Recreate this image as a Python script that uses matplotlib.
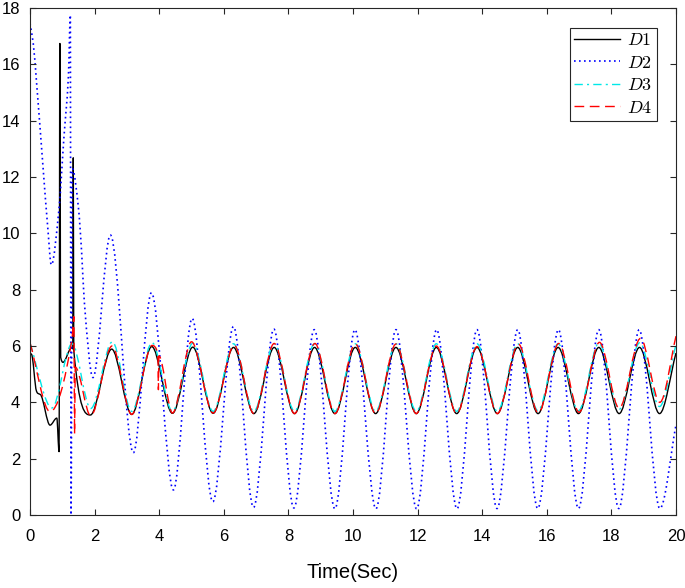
import numpy as np
import matplotlib
matplotlib.use('Agg')
import matplotlib.pyplot as plt
from matplotlib.path import Path
from matplotlib.patches import PathPatch
from matplotlib.lines import Line2D

plt.rcParams['font.family'] = ['Liberation Sans', 'DejaVu Sans']
plt.rcParams['mathtext.fontset'] = 'cm'

# knots: extrema, spikes and shoulders of each response
d1_t = [0.0, 0.05, 0.20, 0.24, 0.32, 0.62, 0.83, 0.90, 0.925, 0.95, 1.02, 1.29, 1.325, 1.34, 1.355,
        1.87, 2.53, 3.15, 3.77, 4.41, 5.04, 5.67, 6.30, 6.93, 7.56, 8.19, 8.81, 9.44, 10.07,
        10.70, 11.33, 11.96, 12.58, 13.21, 13.84, 14.47, 15.10, 15.73, 16.35, 16.98, 17.61,
        18.24, 18.87, 19.49, 20.0]
d1_y = [5.75, 5.70, 4.40, 4.32, 4.28, 3.19, 3.44, 2.25, 16.74, 5.60, 5.42, 5.94, 5.90, 12.68, 5.85,
        3.55, 5.89, 3.57, 5.98, 3.61, 5.96, 3.61, 5.95, 3.60, 5.95, 3.60, 5.95, 3.60, 5.95,
        3.60, 5.95, 3.60, 5.95, 3.60, 5.95, 3.60, 5.95, 3.60, 5.95, 3.60, 5.95,
        3.60, 5.95, 3.60, 5.75]

d2_t = [0.0, 0.10, 0.20, 0.41, 0.55, 0.66, 0.90, 1.05, 1.19, 1.25, 1.27, 1.31, 1.50, 1.60, 1.68,
        1.95, 2.49, 3.20, 3.76, 4.44, 5.02, 5.66, 6.30, 6.92, 7.55, 8.17, 8.80, 9.44, 10.06,
        10.71, 11.33, 11.97, 12.59, 13.22, 13.84, 14.46, 15.10, 15.72, 16.36, 16.98, 17.61,
        18.23, 18.86, 19.50, 20.0]
d2_y = [17.45, 16.75, 15.40, 12.25, 10.20, 8.88, 10.90, 13.40, 15.60, 17.75, 0.0, 12.30, 10.90,
        9.30, 7.60, 4.88, 9.94, 2.21, 7.89, 0.89, 6.98, 0.47, 6.69, 0.27, 6.60, 0.25, 6.58,
        0.22, 6.58, 0.22, 6.58, 0.22, 6.58, 0.22, 6.58, 0.23, 6.58, 0.23, 6.58, 0.23, 6.58,
        0.23, 6.58, 0.23, 3.20]

d3_t = [0.0, 0.68, 1.30, 1.88, 2.55, 3.15, 3.78, 4.41, 5.04, 5.67, 6.30, 6.93, 7.56, 8.19,
        8.81, 9.44, 10.07, 10.70, 11.33, 11.96, 12.58, 13.21, 13.84, 14.47, 15.10, 15.73,
        16.35, 16.98, 17.61, 18.24, 18.88, 19.49, 20.0]
d3_y = [6.10, 3.80, 6.08, 3.78, 6.15, 3.68, 6.12, 3.68, 6.10, 3.68, 6.08, 3.68, 6.08, 3.68,
        6.08, 3.68, 6.08, 3.68, 6.08, 3.68, 6.08, 3.68, 6.08, 3.68, 6.08, 3.70,
        6.08, 3.70, 6.10, 3.75, 6.12, 3.85, 6.05]

d4_t = [0.0, 0.62, 1.30, 1.36, 1.38, 1.40, 1.88, 2.54, 3.15, 3.78, 3.96, 3.975, 3.99, 4.41,
        5.00, 5.67, 6.32, 6.93, 7.56, 8.19, 8.82, 9.44, 10.07, 10.70, 11.33, 11.96, 12.58,
        13.21, 13.84, 14.47, 15.12, 15.74, 16.37, 17.00, 17.63, 18.24, 18.90, 19.50, 20.0]
d4_y = [6.12, 3.67, 6.25, 7.04, 2.88, 5.25, 3.52, 6.00, 3.57, 6.02, 5.72, 4.45, 5.65, 3.62,
        6.15, 3.62, 6.03, 3.60, 6.09, 3.60, 6.09, 3.60, 6.08, 3.60, 6.07, 3.60, 6.00,
        3.60, 5.98, 3.60, 6.07, 3.62, 6.09, 3.65, 6.13, 3.79, 6.27, 4.00, 6.35]


def smooth(t, y):
    # monotone cubic through the knots, handed to matplotlib as bezier segments
    t = np.asarray(t, float)
    y = np.asarray(y, float)
    h = np.diff(t)
    s = np.diff(y) / h
    d = np.zeros_like(y)
    for k in range(1, len(y) - 1):
        if s[k - 1] * s[k] > 0:
            w1 = 2 * h[k] + h[k - 1]
            w2 = h[k] + 2 * h[k - 1]
            d[k] = (w1 + w2) / (w1 / s[k - 1] + w2 / s[k])
    d[0] = s[0]
    d[-1] = s[-1]
    verts = [(t[0], y[0])]
    codes = [Path.MOVETO]
    for k in range(len(h)):
        verts += [(t[k] + h[k] / 3, y[k] + d[k] * h[k] / 3),
                  (t[k + 1] - h[k] / 3, y[k + 1] - d[k + 1] * h[k] / 3),
                  (t[k + 1], y[k + 1])]
        codes += [Path.CURVE4] * 3
    return Path(verts, codes)


styles = [
    ('$D1$', d1_t, d1_y, 'k', 1.0, '-'),
    ('$D2$', d2_t, d2_y, '#0000ff', 1.2, (0, (1, 2))),
    ('$D3$', d3_t, d3_y, '#00e8e8', 1.0, (0, (6, 3, 1.5, 3))),
    ('$D4$', d4_t, d4_y, '#ff0000', 1.0, (0, (7, 4))),
]

fig = plt.figure(figsize=(6.85, 5.88), dpi=100)
ax = fig.add_axes([30 / 685, 73 / 588, 646 / 685, 507 / 588])

handles = []
for label, t, y, c, lw, ls in styles:
    ax.add_patch(PathPatch(smooth(t, y), fill=False, edgecolor=c, linewidth=lw,
                           linestyle=ls, joinstyle='round', capstyle='butt'))
    handles.append(Line2D([], [], color=c, linewidth=lw, linestyle=ls, label=label))

ax.set_xlim(0, 20)
ax.set_ylim(0, 18)
ax.set_xticks(np.arange(0, 21, 2))
ax.set_yticks(np.arange(0, 19, 2))
ax.tick_params(direction='in', top=True, right=True, length=4, width=0.8,
               color='#262626', labelsize=12)
ax.tick_params(axis='x', pad=10)
ax.tick_params(axis='y', pad=7)
for sp in ax.spines.values():
    sp.set_color('#262626')
    sp.set_linewidth(0.8)
ax.set_xlabel('Time(Sec)', fontsize=14.5, labelpad=14)

leg = ax.legend(handles=handles, loc='upper right', bbox_to_anchor=(0.971, 0.961),
                fontsize=13, fancybox=False, framealpha=1, edgecolor='#262626',
                handlelength=2.55, handletextpad=0.4, labelspacing=0.3,
                borderaxespad=0, borderpad=0.25)
leg.get_frame().set_linewidth(0.8)

fig.savefig('out.png', dpi=100)
